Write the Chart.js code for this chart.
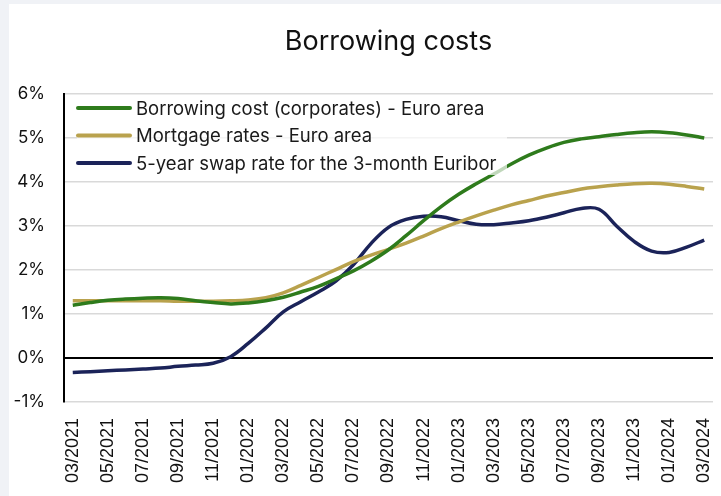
<!DOCTYPE html>
<html>
<head>
<meta charset="utf-8">
<script src="https://cdn.jsdelivr.net/npm/chart.js@4.4.1/dist/chart.umd.min.js"></script>
<style>
  html, body { margin: 0; padding: 0; background: #f0f2f6; }
  #card { position: absolute; left: 9px; top: 4px; width: 712px; height: 492px; background: #fff; }
</style>
</head>
<body>
<div id="card"><canvas id="chart" width="712" height="492"></canvas></div>
<script>
// Monthly observations, 03/2021 - 03/2024
const months = [
  '03/2021', '04/2021', '05/2021', '06/2021', '07/2021', '08/2021', '09/2021', '10/2021', '11/2021', '12/2021',
  '01/2022', '02/2022', '03/2022', '04/2022', '05/2022', '06/2022', '07/2022', '08/2022', '09/2022', '10/2022',
  '11/2022', '12/2022', '01/2023', '02/2023', '03/2023', '04/2023', '05/2023', '06/2023', '07/2023', '08/2023',
  '09/2023', '10/2023', '11/2023', '12/2023', '01/2024', '02/2024', '03/2024'
];

const corporateCost = [
  1.20, 1.26, 1.31, 1.34, 1.36, 1.37, 1.35, 1.30, 1.26, 1.23,
  1.25, 1.30, 1.38, 1.50, 1.63, 1.80, 1.98, 2.20, 2.46, 2.78,
  3.12, 3.44, 3.72, 3.96, 4.18, 4.41, 4.61, 4.77, 4.90, 4.98,
  5.03, 5.08, 5.12, 5.14, 5.12, 5.07, 5.00
];

const mortgageRates = [
  1.30, 1.30, 1.30, 1.30, 1.30, 1.30, 1.29, 1.29, 1.29, 1.30,
  1.32, 1.37, 1.48, 1.65, 1.83, 2.01, 2.19, 2.34, 2.47, 2.61,
  2.77, 2.94, 3.09, 3.23, 3.36, 3.48, 3.58, 3.68, 3.76, 3.84,
  3.89, 3.93, 3.96, 3.97, 3.95, 3.90, 3.84
];

const swapRate = [
  -0.33, -0.31, -0.29, -0.27, -0.25, -0.23, -0.19, -0.16, -0.12, 0.03,
  0.33, 0.68, 1.05, 1.28, 1.50, 1.75, 2.12, 2.60, 2.97, 3.15,
  3.22, 3.21, 3.12, 3.04, 3.03, 3.07, 3.12, 3.20, 3.30, 3.40,
  3.38, 3.00, 2.65, 2.43, 2.40, 2.52, 2.68
];

const seriesNames = [
  'Borrowing cost (corporates) - Euro area',
  'Mortgage rates - Euro area',
  '5-year swap rate for the 3-month Euribor'
];
const seriesColors = ['#2e7b1c', '#b9a24d', '#1b2359'];

const gridGrey = '#d9d9d9';

// legend drawn inside the plot, over a translucent white panel
const innerLegend = {
  id: 'innerLegend',
  afterDatasetsDraw(chart) {
    const { ctx, chartArea } = chart;
    const x0 = chartArea.left + 13;
    ctx.save();
    ctx.fillStyle = 'rgba(255,255,255,0.7)';
    ctx.fillRect(x0, chartArea.top + 3, 430, 78);
    ctx.font = '18.5px Inter';
    ctx.textBaseline = 'middle';
    ctx.lineCap = 'round';
    chart.data.datasets.forEach((ds, i) => {
      const y = chartArea.top + 14 + i * 27.5;
      ctx.strokeStyle = ds.borderColor;
      ctx.lineWidth = 4;
      ctx.beginPath();
      ctx.moveTo(x0 + 1, y);
      ctx.lineTo(x0 + 53, y);
      ctx.stroke();
      ctx.fillStyle = '#1a1a1a';
      ctx.fillText(ds.label, x0 + 59, y + 1);
    });
    ctx.restore();
  }
};

const datasets = [corporateCost, mortgageRates, swapRate].map((values, i) => ({
  label: seriesNames[i],
  data: values,
  borderColor: seriesColors[i],
  backgroundColor: seriesColors[i],
  borderWidth: 3.5,
  pointRadius: 0,
  tension: 0.4,
  fill: false
}));

new Chart(document.getElementById('chart'), {
  type: 'line',
  data: { labels: months, datasets: datasets },
  plugins: [innerLegend],
  options: {
    responsive: false,
    animation: false,
    layout: { padding: { left: 0, right: 8, top: 0, bottom: 0 } },
    plugins: {
      legend: { display: false },
      tooltip: { enabled: false },
      title: {
        display: true,
        text: 'Borrowing costs',
        fullSize: false,
        color: '#111',
        font: { family: 'Inter', size: 27, weight: 'normal' },
        padding: { top: 22, bottom: 35.6 }
      }
    },
    scales: {
      x: {
        offset: true,
        grid: { display: false, drawTicks: false },
        border: { display: false },
        ticks: {
          autoSkip: false,
          minRotation: 90,
          maxRotation: 90,
          padding: 16,
          color: '#111',
          font: { family: 'Liberation Sans', size: 18 },
          callback: (val, idx) => (idx % 2 === 0 ? months[idx] : '')
        },
        afterFit: (scale) => {
          scale.height = 94;
          scale.paddingLeft = 0;
          scale.paddingRight = 0;
        }
      },
      y: {
        min: -1,
        max: 6,
        grid: {
          drawTicks: false,
          lineWidth: (c) => (c.tick && c.tick.value === 0 ? 2 : 1.5),
          color: (c) => (c.tick && c.tick.value === 0 ? '#000' : gridGrey)
        },
        border: { display: true, color: '#000', width: 2 },
        ticks: {
          stepSize: 1,
          padding: 19,
          color: '#111',
          font: { family: 'Inter', size: 17 },
          callback: (v) => v + '%'
        },
        afterFit: (scale) => { scale.width = 55; }
      }
    }
  }
});
</script>
</body>
</html>
